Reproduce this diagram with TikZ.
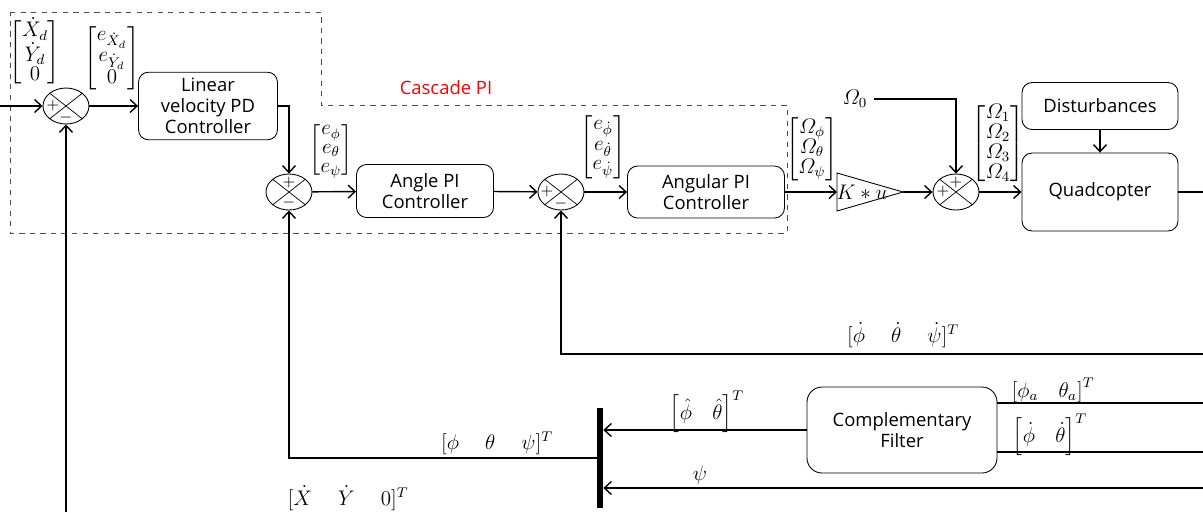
\documentclass[tikz,border=0pt]{standalone}
\usepackage{amsmath}
\usepackage{fontspec}
\setsansfont{Open Sans}
\usepackage{xcolor}
\usepackage{tikz}
\usetikzlibrary{arrows.meta,positioning,shapes.geometric,calc}

\begin{document}
\begin{tikzpicture}[
  x=0.02cm, y=-0.02cm,
  box/.style={rectangle, draw, rounded corners=2mm, align=center,
              font=\sffamily\fontsize{10.5}{12}\selectfont, line width=0.5pt},
  sum/.style={ellipse, draw, minimum width=0.92cm, minimum height=0.72cm,
              inner sep=0pt, line width=0.5pt,
              path picture={\draw[line width=0.4pt]
                (path picture bounding box.north west) -- (path picture bounding box.south east)
                (path picture bounding box.north east) -- (path picture bounding box.south west);}},
  sgn/.style={inner sep=0pt, font=\fontsize{9}{9}\selectfont},
  vec/.style={inner sep=1pt, font=\fontsize{11.5}{10.5}\selectfont},
  lbl/.style={inner sep=1pt, font=\fontsize{11.5}{13}\selectfont},
  arr/.style={-{Straight Barb[length=1.4mm, width=2.6mm]}, line width=0.8pt},
  wire/.style={line width=0.8pt},
]
  \useasboundingbox (0,0) rectangle (1203,512);

  % Cascade PI region
  \draw[dashed, gray!60!black, line width=0.5pt] (10,12) -- (321,12) -- (321,105) -- (787,105)
    -- (787,233) -- (10,233) -- cycle;
  \node[font=\sffamily\fontsize{10.5}{12}\selectfont, text=red] (casc) at (446,88) {Cascade PI};

  % Velocity loop
  \node[sum] (s1) at (66,106) {};
  \node[sgn] (s1p) at ($(s1)+(-13,0)$) {$+$};
  \node[sgn] (s1m) at ($(s1)+(0,12)$) {$-$};
  \node[box, minimum width=2.78cm, minimum height=1.32cm] (linear) at (208,106)
    {Linear\\velocity PD\\Controller};
  \node[vec] (vxd) at (35,52) {$\begin{bmatrix}\dot X_d\\ \dot Y_d\\ 0\end{bmatrix}$};
  \node[vec] (vex) at (112,58) {$\begin{bmatrix}e_{\dot X_d}\\ e_{\dot Y_d}\\ 0\end{bmatrix}$};

  % Angle loop
  \node[sum] (s2) at (289,192) {};
  \node[sgn] (s2p) at ($(s2)+(0,-9)$) {$+$};
  \node[sgn] (s2m) at ($(s2)+(0,11)$) {$-$};
  \node[box, minimum width=2.74cm, minimum height=1.06cm] (angle) at (425,191)
    {Angle PI\\Controller};
  \node[vec] (vea) at (331,150) {$\begin{bmatrix}e_\phi\\ e_\theta\\ e_\psi\end{bmatrix}$};

  % Rate loop
  \node[sum] (s3) at (561,192) {};
  \node[sgn] (s3p) at ($(s3)+(-14,0)$) {$+$};
  \node[sgn] (s3m) at ($(s3)+(0,12)$) {$-$};
  \node[box, minimum width=3.14cm, minimum height=1.04cm] (angular) at (706,192)
    {Angular PI\\Controller};
  \node[vec] (ver) at (603,147) {$\begin{bmatrix}e_{\dot\phi}\\ e_{\dot\theta}\\ e_{\dot\psi}\end{bmatrix}$};

  % Mixer and plant
  \coordinate (gin) at (837,192);
  \coordinate (gout) at (903,192);
  \draw[line width=0.5pt] (837,173) -- (gout) -- (837,211) -- cycle;
  \node[lbl] (gain) at (862,192) {$K*u$};
  \node[vec] (vom) at (812,149) {$\begin{bmatrix}\varOmega_\phi\\ \varOmega_\theta\\ \varOmega_\psi\end{bmatrix}$};
  \node[lbl] (o0) at (855,99) {$\varOmega_0$};
  \node[sum] (s4) at (956,192) {};
  \node[sgn] (s4p) at ($(s4)+(0,-9)$) {$+$};
  \node[sgn] (s4q) at ($(s4)+(-13,0)$) {$+$};
  \node[vec] (vmot) at (998,144) {$\begin{bmatrix}\varOmega_1\\ \varOmega_2\\ \varOmega_3\\ \varOmega_4\end{bmatrix}$};
  \node[box, minimum width=3.12cm, minimum height=0.94cm] (dist) at (1100,106) {Disturbances};
  \node[box, minimum width=3.12cm, minimum height=1.56cm] (quad) at (1100,192) {Quadcopter};

  % Estimation
  \node[box, rounded corners=3mm, minimum width=3.8cm, minimum height=1.72cm] (comp) at (902,430)
    {Complementary\\Filter};
  \node[fill, minimum width=0.12cm, minimum height=2cm, inner sep=0pt] (bar) at (600,458) {};
  \coordinate (xin) at (0,106);
  \coordinate (vfb) at (66,512);
  \coordinate (yout) at (1203,192);
  \coordinate (rate) at (1203,354);
  \coordinate (acc) at (1203,403);
  \coordinate (gyr) at (1203,452);
  \coordinate (psiin) at (1203,488);
  \node[lbl] (lrate) at (903,335) {$[\dot\phi\quad\;\dot\theta\quad\;\dot\psi]^T$};
  \node[lbl] (lacc) at (1053,390) {$\left[\phi_a\quad\theta_a\right]^T$};
  \node[lbl] (lgyr) at (1050,435) {$\left[\dot\phi\quad\dot\theta\right]^T$};
  \node[lbl] (lest) at (707,412) {$\left[\hat\phi\quad\hat\theta\right]^T$};
  \node[lbl] (lpsi) at (700,475) {$\psi$};
  \node[lbl] (latt) at (497,443) {$[\phi\quad\;\theta\quad\;\psi]^T$};
  \node[lbl] (lvel) at (348,498) {$[\dot X\quad\;\dot Y\quad\;0]^T$};

  % Arrows
  \draw[arr] (xin) -- (s1.west);
  \draw[arr] (s1) -- (linear);
  \draw[arr] (linear.east) -| (s2.north);
  \draw[arr] (s2) -- (angle);
  \draw[arr] (angle) -- (s3);
  \draw[arr] (s3) -- (angular);
  \draw[arr] (angular) -- (gin);
  \draw[arr] (gout) -- (s4);
  \draw[arr] ([xshift=1mm]o0.east) -| (s4.north);
  \draw[arr] (s4) -- (quad);
  \draw[arr] (dist) -- (quad);
  \draw[wire] (quad) -- (yout);
  \draw[arr] (rate) -| (s3.south);
  \draw[wire] (acc) -- (acc -| comp.east);
  \draw[wire] (gyr) -- (gyr -| comp.east);
  \draw[arr] (comp.west) -- (comp.west -| bar.east);
  \draw[arr] (psiin) -- (psiin -| bar.east);
  \draw[arr] (bar.west) -| (s2.south);
  \draw[arr] (vfb) -- (s1.south);
\end{tikzpicture}
\end{document}
